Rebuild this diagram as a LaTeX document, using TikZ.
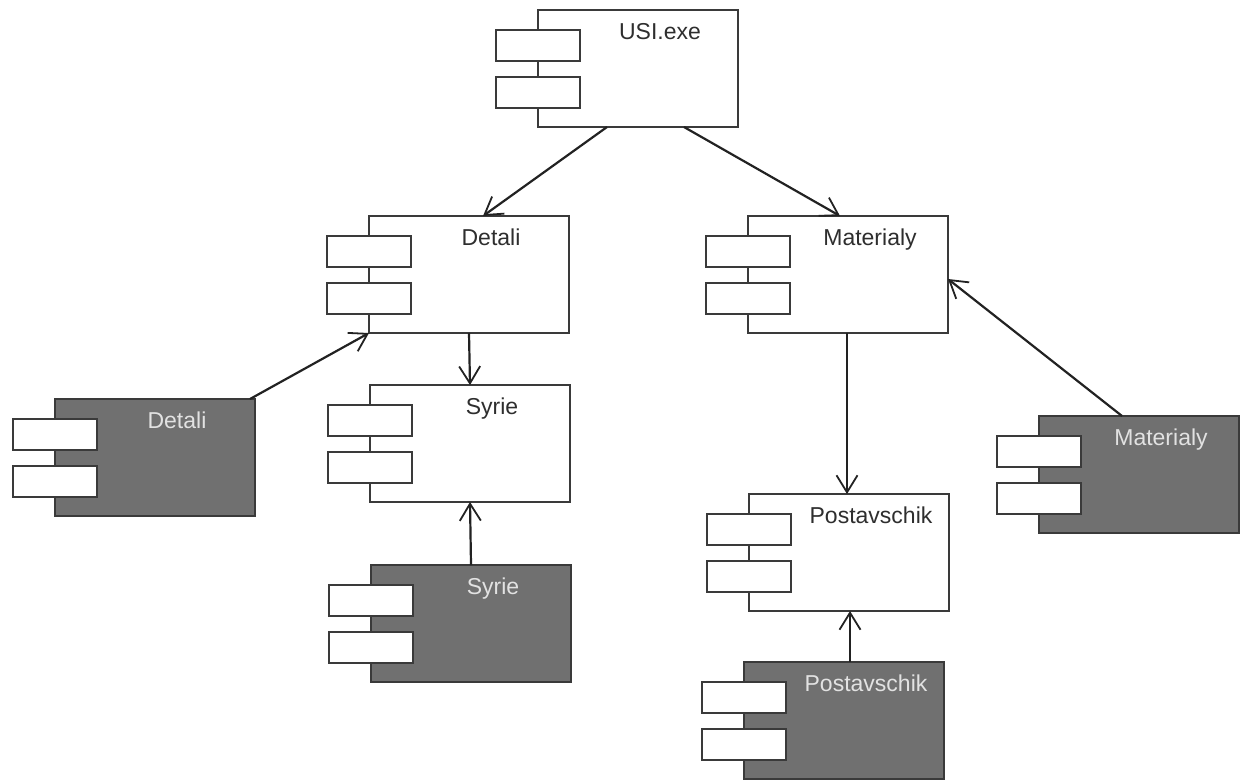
\documentclass[tikz,border=0pt]{standalone}
\usepackage{fontspec}
\setmainfont{Liberation Sans}
\usetikzlibrary{calc,arrows.meta}

\definecolor{edge}{HTML}{3A3A3A}
\definecolor{wire}{HTML}{222222}
\definecolor{shade}{HTML}{707070}
\definecolor{lighttext}{HTML}{E2E2E2}
\definecolor{darktext}{HTML}{2E2E2E}

\tikzset{
  body/.style={draw=edge, line width=1.9pt, inner sep=0pt, outer sep=0pt,
    minimum width=200pt, minimum height=117pt, anchor=north west},
  lightbody/.style={body, fill=white},
  darkbody/.style={body, fill=shade},
  port/.style={draw=edge, line width=1.9pt, fill=white, inner sep=0pt,
    outer sep=0pt, minimum width=84pt, minimum height=31pt},
  lbl/.style={anchor=base, inner sep=0pt, font=\fontsize{23}{27}\selectfont},
  lightlbl/.style={lbl, text=darktext},
  darklbl/.style={lbl, text=lighttext},
  dep/.style={draw=wire, line width=2.2pt,
    -{Straight Barb[length=17pt, width=21pt, line width=1.8pt]}},
}

% component: name, x, y (top-left of the body), label, variant (light/dark)
\newcommand\umlcomp[5]{%
  \node[#5body] (#1) at (#2,#3) {};
  \node[port] (#1-p1) at ($(#1.north west)+(0,35.5)$) {};
  \node[port] (#1-p2) at ($(#1.north west)+(0,82.5)$) {};
  \node[#5lbl] (#1-t) at ($(#1.north west)+(122,29.5)$) {#4};
}

\begin{document}
\begin{tikzpicture}[x=1pt, y=-1pt]
  \useasboundingbox (0,0) rectangle (1246,780);

  \umlcomp{usi}{538}{10}{USI.exe}{light}
  \umlcomp{det}{369}{216}{Detali}{light}
  \umlcomp{mat}{748}{216}{Materialy}{light}
  \umlcomp{syr}{370}{385}{Syrie}{light}
  \umlcomp{pos}{749}{494}{Postavschik}{light}

  \umlcomp{detd}{55}{399}{Detali}{dark}
  \umlcomp{syrd}{371}{565}{Syrie}{dark}
  \umlcomp{matd}{1039}{416}{Materialy}{dark}
  \umlcomp{posd}{744}{662}{Postavschik}{dark}

  % dependencies
  \draw[dep] ($(usi.south west)+(69,0)$) -- ($(det.north west)+(114,0)$);
  \draw[dep] ($(usi.south west)+(146,0)$) -- ($(mat.north west)+(92,0)$);
  \draw[dep] ($(detd.north west)+(195,0)$) -- (det.south west);
  \draw[dep] ($(det.south west)+(100,0)$) -- ($(syr.north west)+(100,0)$);
  \draw[dep] ($(syrd.north west)+(100,0)$) -- ($(syr.south west)+(100,0)$);
  \draw[dep] ($(mat.south west)+(99,0)$) -- ($(pos.north west)+(98,0)$);
  \draw[dep] ($(posd.north west)+(106,0)$) -- ($(pos.south west)+(101,0)$);
  \draw[dep] ($(matd.north west)+(83,0)$) -- ($(mat.north east)+(0,63)$);
\end{tikzpicture}
\end{document}
